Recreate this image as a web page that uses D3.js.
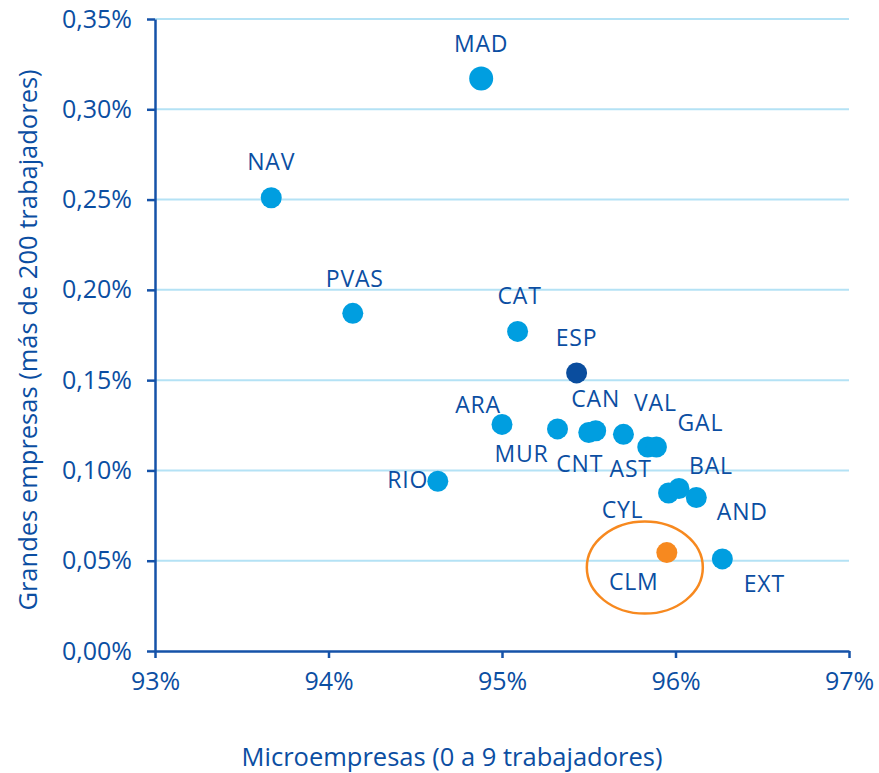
<!DOCTYPE html>
<html lang="es">
<head>
<meta charset="UTF-8">
<script src="https://cdn.jsdelivr.net/npm/d3@7"></script>
<title>Grandes empresas vs microempresas</title>
<style>
    body { margin: 0; background: #fff; }
    svg text { font-family: "Open Sans", sans-serif; fill: #0b4ea2; }
    .axis path, .axis line { stroke: #1552a8; stroke-width: 2.5; }
    .grid line { stroke: #b4e2f5; stroke-width: 2; }
</style>
</head>
<body>
<script>
    // comunidades autónomas
    let regions = ["MAD", "NAV", "PVAS", "CAT", "ESP", "ARA", "MUR", "CNT", "CAN", "VAL",
                   "AST", "GAL", "RIO", "CYL", "BAL", "AND", "CLM", "EXT"];
    // % microempresas (0 a 9 trabajadores)
    let micro = [94.88, 93.67, 94.14, 95.09, 95.43, 95.00, 95.32, 95.50, 95.54, 95.70,
                 95.84, 95.89, 94.63, 95.96, 96.02, 96.12, 95.95, 96.27];
    // % grandes empresas (mas de 200 trabajadores)
    let large = [0.317, 0.251, 0.187, 0.177, 0.154, 0.1255, 0.123, 0.121, 0.122, 0.120,
                 0.113, 0.113, 0.094, 0.0875, 0.090, 0.085, 0.0545, 0.051];
    // label offset from the dot, px
    let labelDx = [0, 0, 2, 2, 0, -24, -36, -9, 0, 32, -17, 44, -30, -46, 32, 46, -33, 42];
    let labelDy = [-27, -28, -26, -27, -27, -11, 33, 39, -24, -23, 30, -16, 7, 25, -14, 22, 37, 33];

    let xTicks = [93, 94, 95, 96, 97];
    let yTicks = [0, 0.05, 0.10, 0.15, 0.20, 0.25, 0.30, 0.35];

    var width = 879, height = 773;
    var mLeft = 155, mRight = 849, mTop = 19, mBottom = 651;

    var svg = d3.select("body").append("svg")
        .attr("width", width)
        .attr("height", height);

    var x = d3.scaleLinear().domain([93, 97]).range([mLeft, mRight]);
    var y = d3.scaleLinear().domain([0, 0.35]).range([mBottom, mTop]);

    // gridlines
    svg.append("g").attr("class", "grid")
        .selectAll("line")
        .data(yTicks.filter(d => d > 0))
        .enter().append("line")
        .attr("x1", mLeft).attr("x2", mRight)
        .attr("y1", d => y(d)).attr("y2", d => y(d));

    var yAxis = svg.append("g").attr("class", "axis")
        .attr("transform", "translate(" + mLeft + ",0)")
        .call(d3.axisLeft(y).tickValues(yTicks).tickSize(8).tickSizeOuter(0).tickPadding(15)
            .tickFormat(d => d3.format(".2f")(d).replace(".", ",") + "%"));
    yAxis.selectAll("text").style("font-size", "25px");

    var xAxis = svg.append("g").attr("class", "axis")
        .attr("transform", "translate(0," + mBottom + ")")
        .call(d3.axisBottom(x).tickValues(xTicks).tickSize(7).tickSizeOuter(0).tickPadding(14)
            .tickFormat(d => d + "%"));
    xAxis.selectAll("text").style("font-size", "25px");

    svg.append("text")
        .attr("x", 452)
        .attr("y", 766)
        .attr("text-anchor", "middle")
        .style("font-size", "25.5px")
        .text("Microempresas (0 a 9 trabajadores)");

    svg.append("text")
        .attr("transform", "translate(37,340) rotate(-90)")
        .attr("text-anchor", "middle")
        .style("font-size", "25.5px")
        .text("Grandes empresas (más de 200 trabajadores)");

    var points = regions.map((r, i) => ({ name: r, mx: micro[i], lg: large[i], dx: labelDx[i], dy: labelDy[i] }));

    function dotColor(d) {
        if (d.name == "ESP") return "#0a4d9e";
        if (d.name == "CLM") return "#f7891f";
        return "#009ee0";
    }

    // circle round CLM
    var clm = points.find(d => d.name == "CLM");
    svg.append("ellipse")
        .attr("cx", x(clm.mx) - 22)
        .attr("cy", y(clm.lg) + 15)
        .attr("rx", 58).attr("ry", 46)
        .attr("fill", "none")
        .attr("stroke", "#f7891f")
        .attr("stroke-width", 2.5);

    svg.selectAll("circle.dot")
        .data(points)
        .enter().append("circle")
        .attr("class", "dot")
        .attr("cx", d => x(d.mx))
        .attr("cy", d => y(d.lg))
        .attr("r", d => d.name == "MAD" ? 12 : 10.5)
        .attr("fill", dotColor);

    svg.selectAll("text.lbl")
        .data(points)
        .enter().append("text")
        .attr("class", "lbl")
        .attr("x", d => x(d.mx) + d.dx)
        .attr("y", d => y(d.lg) + d.dy)
        .attr("text-anchor", "middle")
        .style("font-size", "23px")
        .style("letter-spacing", "0.8px")
        .text(d => d.name);
</script>
</body>
</html>
